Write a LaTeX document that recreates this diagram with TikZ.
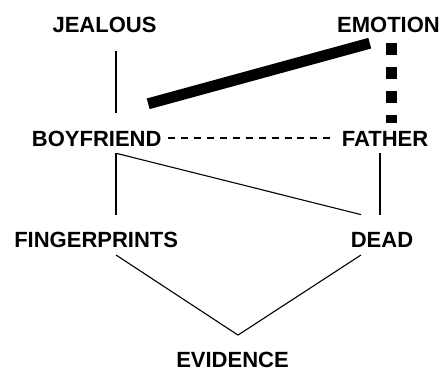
\documentclass[tikz,border=0pt]{standalone}
\usepackage{fontspec}
\setmainfont{Liberation Sans}
\usepackage{tikz}

\begin{document}
\begin{tikzpicture}[
      x=1pt, y=-1pt,
      every node/.style={align=center},
      word/.style={font=\bfseries\fontsize{22}{26}\selectfont, inner sep=0pt, text height=33pt, text depth=7pt, anchor=base},
      link/.style={line width=1.1pt},
      weak/.style={line width=1.1pt, dash pattern=on 7pt off 5.9pt},
      strong/.style={line width=11pt},
      dots/.style={line width=11.6pt, dash pattern=on 12pt off 12pt}
    ]
      \useasboundingbox (0,0) rectangle (444,371);
      % Concept nodes
      \node[word] (jealous) at (104.5,32.3) {JEALOUS};
      \node[word] (emotion) at (388.5,32.3) {EMOTION};
      \node[word] (boyfriend) at (96.7,146.3) {BOYFRIEND};
      \node[word] (father) at (385,146.3) {FATHER};
      \node[word] (fingerprints) at (96.2,247.8) {FINGERPRINTS};
      \node[word] (dead) at (382,247.8) {DEAD};
      \node[word, text depth=0pt] (evidence) at (232.5,367) {EVIDENCE};
      % Links
      \draw[link] ([xshift=11.5pt, yshift=-11.7pt]jealous.south) -- ([xshift=19.3pt]boyfriend.north);
      \draw[link] ([xshift=19.3pt]boyfriend.south) -- ([xshift=19.8pt]fingerprints.north);
      \draw[link] ([xshift=20.3pt]boyfriend.south) -- ([xshift=-21pt]dead.north);
      \draw[link] ([xshift=-5pt]father.south) -- ([xshift=-2pt]dead.north);
      \draw[link] ([xshift=19.8pt]fingerprints.south) -- ([xshift=5.5pt, yshift=-1.3pt]evidence.north);
      \draw[link] ([xshift=-21pt]dead.south) -- ([xshift=5.5pt, yshift=-1.3pt]evidence.north);
      % Weak and strong associations
      \draw[weak] ([xshift=6.8pt, yshift=-4.7pt]boyfriend.east) -- ([xshift=-10.4pt, yshift=-4.7pt]father.west);
      \draw[strong] ([xshift=-13.5pt, yshift=9.3pt]boyfriend.north east) -- ([xshift=32.8pt, yshift=-3.7pt]emotion.south west);
      \draw[dots] ([xshift=3pt, yshift=-4pt]emotion.south) -- ([xshift=6.5pt, yshift=-10pt]father.north);
    \end{tikzpicture}
\end{document}
